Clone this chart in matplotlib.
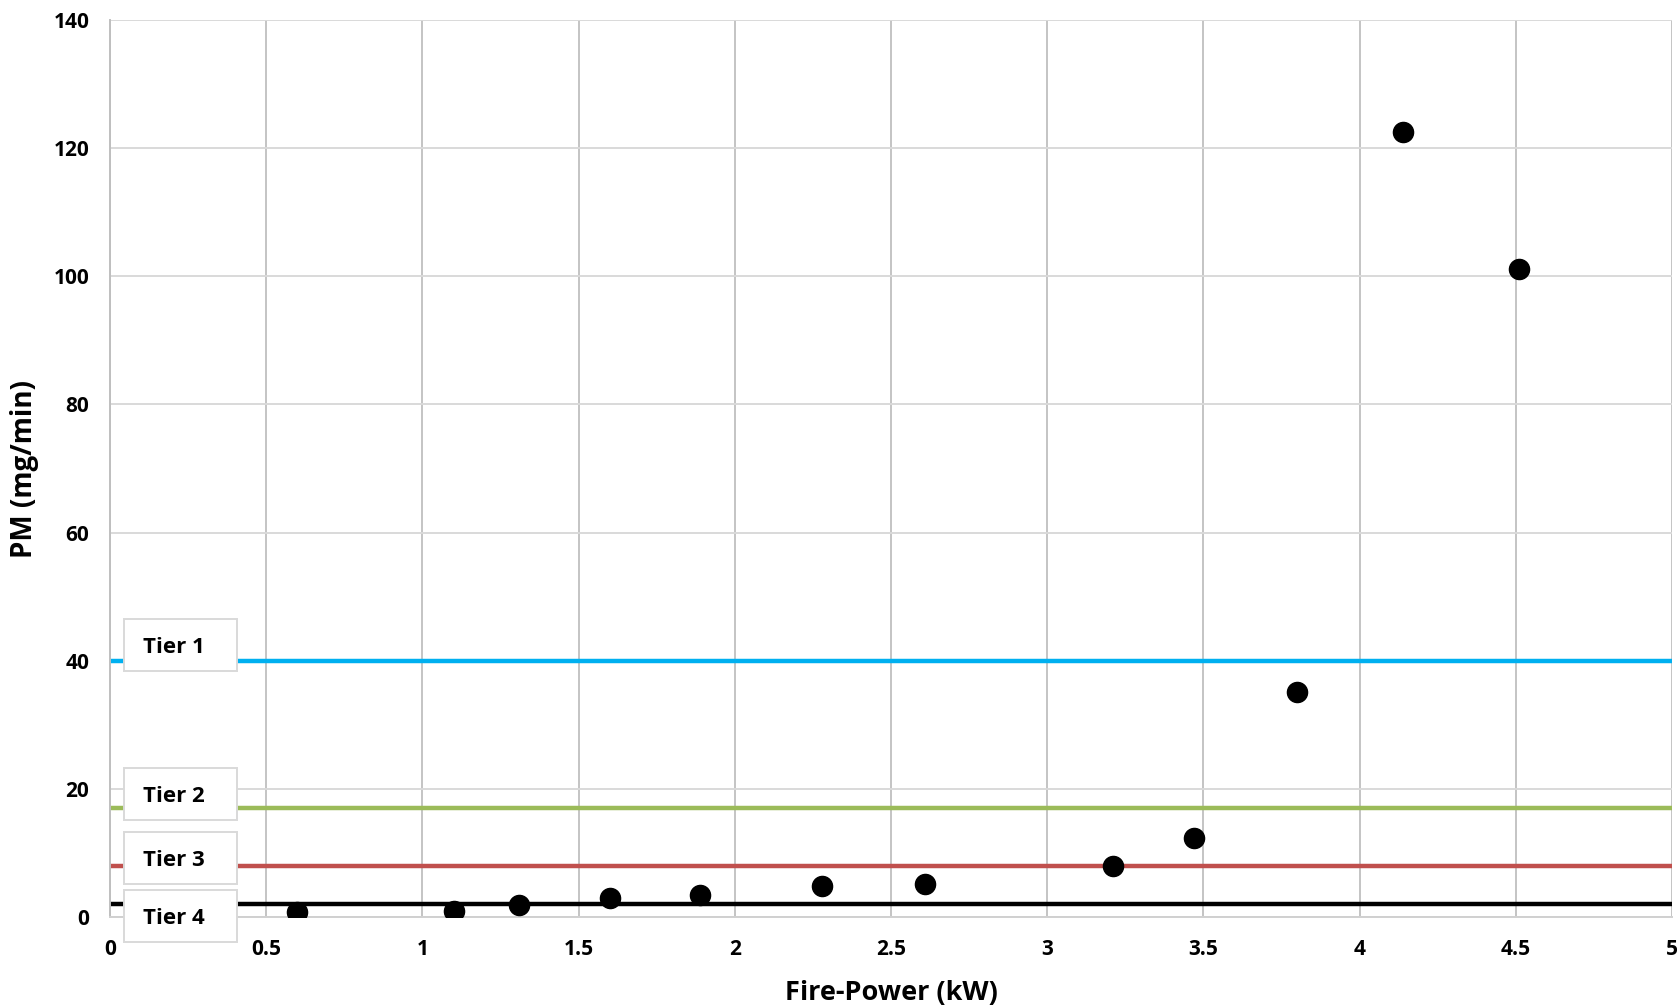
import matplotlib
matplotlib.use("Agg")
import matplotlib.pyplot as plt
from matplotlib.patches import Rectangle

plt.rcParams['font.family'] = ['Open Sans', 'DejaVu Sans']
plt.rcParams['font.weight'] = 'bold'

# measured stove emissions
fire_power = [0.60, 1.10, 1.31, 1.60, 1.89, 2.28, 2.61, 3.21, 3.47, 3.80, 4.14, 4.51]
pm_rate = [0.8, 1.0, 1.8, 3.0, 3.4, 4.8, 5.2, 7.9, 12.4, 35.1, 122.6, 101.2]

# tier thresholds (mg/min)
tier_names = ["Tier 1", "Tier 2", "Tier 3", "Tier 4"]
tier_limits = [40, 17, 8, 2]
tier_colors = ["#00B0F0", "#9BBB59", "#C0504D", "#000000"]
tier_label_y = [42.5, 19.2, 9.2, 0.2]

fig = plt.figure(figsize=(16.77, 10.07), dpi=100)
ax = fig.add_axes([0.0656, 0.0894, 0.9314, 0.8906])

ax.set_xlim(0, 5)
ax.set_ylim(0, 140)
ax.set_xticks([0, 0.5, 1, 1.5, 2, 2.5, 3, 3.5, 4, 4.5, 5])
ax.set_xticklabels(["0", "0.5", "1", "1.5", "2", "2.5", "3", "3.5", "4", "4.5", "5"])
ax.set_yticks(range(0, 141, 20))

ax.grid(axis='y', color='#D9D9D9', linewidth=1.4)
ax.grid(axis='x', color='#C4C4C4', linewidth=1.4)
ax.set_axisbelow(True)
for side in ['top', 'right']:
    ax.spines[side].set_visible(False)
ax.spines['left'].set_color('#BFBFBF')
ax.spines['bottom'].set_color('#D0D0D0')
ax.spines['left'].set_linewidth(1.4)
ax.spines['bottom'].set_linewidth(1.4)
ax.tick_params(length=0, labelsize=15, pad=15)
ax.tick_params(axis='x', pad=16)

for limit, color in zip(tier_limits, tier_colors):
    ax.axhline(limit, color=color, linewidth=3.2, zorder=2)

ax.plot(fire_power, pm_rate, 'o', color='black', markersize=14.5, zorder=4)

# boxed tier labels on the left
box_w, box_h = 0.36, 8.1
for name, yc in zip(tier_names, tier_label_y):
    ax.add_patch(Rectangle((0.045, yc - box_h / 2), box_w, box_h,
                           facecolor='white', edgecolor='#D9D9D9', linewidth=1.4,
                           zorder=5, clip_on=False))
    ax.text(0.205, yc - 0.4, name, ha='center', va='center', fontsize=16,
            fontweight='bold', zorder=6)

ax.set_xlabel("Fire-Power (kW)", fontsize=19.5, fontweight='bold', labelpad=14)
ax.set_ylabel("PM (mg/min)", fontsize=20, fontweight='bold', labelpad=10)

fig.savefig("out.png", dpi=100)
